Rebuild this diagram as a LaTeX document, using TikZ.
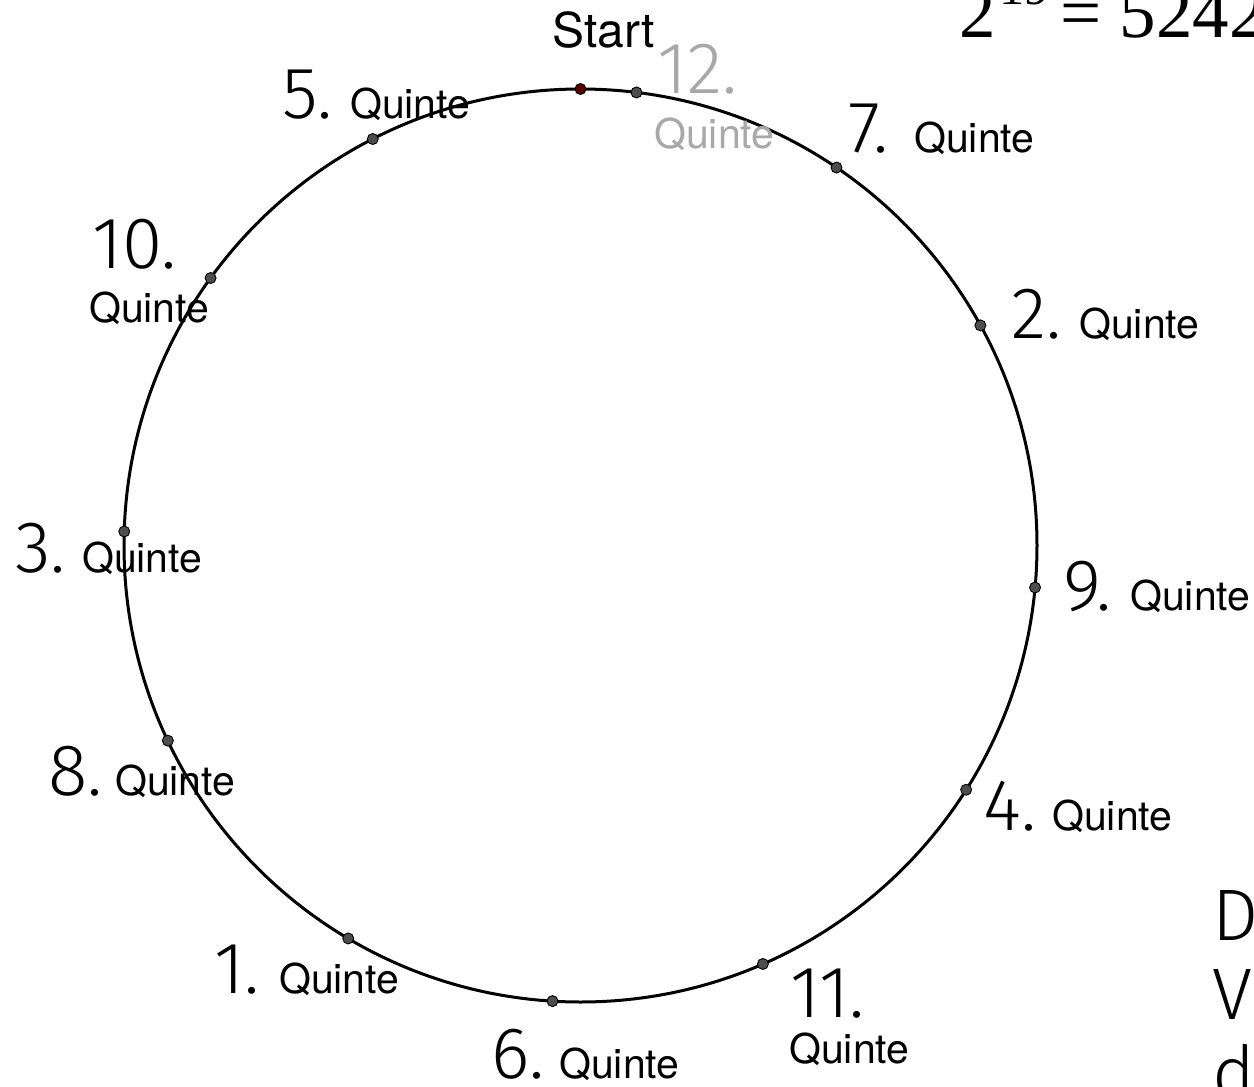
\documentclass[tikz,border=0pt]{standalone}
\usepackage{fontspec}
\usetikzlibrary{calc}
\newfontfamily\heros{TeX Gyre Heros}
\newfontfamily\thinf{Fira Sans Light}
\newfontfamily\tms{Liberation Serif}
\definecolor{dotgray}{RGB}{77,77,77}
\definecolor{startred}{RGB}{85,0,0}
\definecolor{lightgray}{RGB}{168,168,168}
\tikzset{
  big/.style={font=\thinf\fontsize{73}{73}\selectfont, anchor=base west, inner sep=0pt},
  qt/.style={font=\heros\fontsize{41}{41}\selectfont, anchor=base west, inner sep=0pt},
  dotnode/.style={circle, fill=dotgray, draw=black, line width=0.9pt, minimum size=11pt, inner sep=0pt},
  ring/.style={line width=3pt, draw=black},
  serifbig/.style={font=\tms\fontsize{73}{73}\selectfont, anchor=base west, inner sep=0pt}
}
\begin{document}
\begin{tikzpicture}[x=1pt,y=-1pt]
\useasboundingbox (0,0) rectangle (1254,1087);
\clip (0,0) rectangle (1254,1087);
\fill[white] (0,0) rectangle (1254,1087);
\coordinate (c) at (580.5,545.5);
\draw[ring] (c) circle (456.5pt);
% points: clockwise angle from top = k * 210.5865 mod 360
\foreach \k/\t in {1/210.587,2/61.173,3/271.76,4/122.346,5/332.93,6/183.52,7/34.11,8/244.69,9/95.28,10/305.87,11/156.45,12/7.04}{
  \node[dotnode] (p\k) at ($(c)+({\t-90}:456.5)$) {};
}
\node[dotnode, fill=startred] (pstart) at ($(c)+(-90:456.5)$) {};
% labels
\node[qt, font=\heros\fontsize{48}{48}\selectfont] (start) at (552,47) {Start};
\node[big, text=lightgray] (n12) at (657,93) {12.};
\node[qt, text=lightgray] (q12) at (654,148) {Quinte};
\node[big] (n5) at (282,118) {5.};
\node[qt] (q5) at (350,118) {Quinte};
\node[big] (n7) at (848,152) {7.};
\node[qt] (q7) at (914,152) {Quinte};
\node[big] (n10) at (92,268) {10.};
\node[qt] (q10) at (89,322) {Quinte};
\node[big] (n2) at (1011,338) {2.};
\node[qt] (q2) at (1079,338) {Quinte};
\node[big] (n3) at (15,572) {3.};
\node[qt] (q3) at (82,572) {Quinte};
\node[big] (n9) at (1063,610) {9.};
\node[qt] (q9) at (1130,610) {Quinte};
\node[big] (n8) at (48,795) {8.};
\node[qt] (q8) at (115,795) {Quinte};
\node[big] (n4) at (983,830) {4.};
\node[qt] (q4) at (1052,830) {Quinte};
\node[big] (n1) at (214,993) {1.};
\node[qt] (q1) at (279,993) {Quinte};
\node[big] (n11) at (790,1017) {11.};
\node[qt] (q11) at (789,1063) {Quinte};
\node[big] (n6) at (491,1078) {6.};
\node[qt] (q6) at (559,1078) {Quinte};
% formula top right
\node[serifbig] (two) at (959,37) {2};
\node[serifbig, font=\tms\fontsize{50}{50}\selectfont] (exp) at (999,4) {19};
\node[serifbig] (eq) at (1060,37) {= 5242};
% text bottom right
\node[big] (tD) at (1212,940) {D};
\node[big] (tV) at (1212,1019) {V};
\node[big] (td) at (1212,1098) {d};
\end{tikzpicture}
\end{document}
